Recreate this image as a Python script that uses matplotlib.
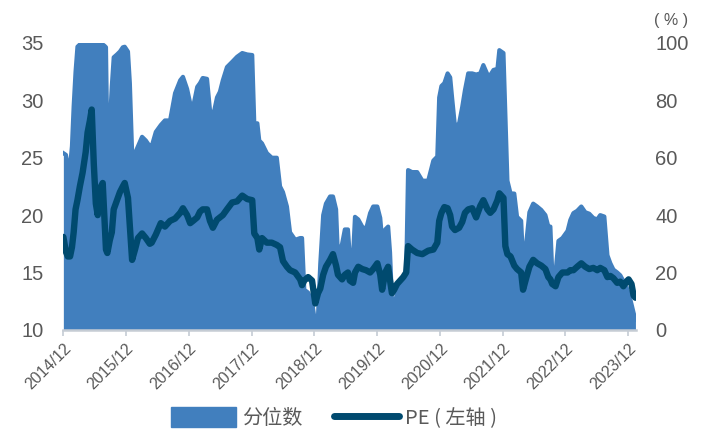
import matplotlib
matplotlib.use("Agg")
import matplotlib.pyplot as plt
from matplotlib.patches import Patch
from matplotlib.lines import Line2D
import pandas as pd

plt.rcParams['font.family'] = ['Liberation Sans', 'Noto Sans CJK SC', 'DejaVu Sans']

# 日期
dates = [
    "2015-01-01", "2015-01-16", "2015-01-27", "2015-02-09", "2015-02-20", "2015-03-02",
    "2015-03-13", "2015-03-24", "2015-04-07", "2015-04-23", "2015-05-11", "2015-05-22",
    "2015-06-04", "2015-06-15", "2015-06-27", "2015-07-09", "2015-07-20", "2015-08-01",
    "2015-08-18", "2015-08-29", "2015-09-06", "2015-09-14", "2015-09-28", "2015-10-10",
    "2015-10-21", "2015-11-09", "2015-11-26", "2015-12-13", "2015-12-24", "2016-01-12",
    "2016-01-23", "2016-02-05", "2016-02-22", "2016-03-10", "2016-04-03", "2016-04-25",
    "2016-05-18", "2016-05-29", "2016-06-22", "2016-07-21", "2016-08-14", "2016-09-13",
    "2016-10-12", "2016-11-11", "2016-11-27", "2016-12-21", "2017-01-08", "2017-01-25",
    "2017-02-18", "2017-03-06", "2017-03-22", "2017-04-16", "2017-05-03", "2017-05-20",
    "2017-06-13", "2017-06-30", "2017-07-17", "2017-08-10", "2017-09-09", "2017-10-08",
    "2017-11-07", "2017-12-06", "2018-01-04", "2018-01-16", "2018-02-03", "2018-02-14",
    "2018-03-02", "2018-03-30", "2018-04-28", "2018-05-27", "2018-06-15", "2018-07-02",
    "2018-07-25", "2018-08-12", "2018-09-11", "2018-10-10", "2018-10-21", "2018-11-03",
    "2018-11-25", "2018-12-18", "2019-01-06", "2019-01-22", "2019-02-04", "2019-02-21",
    "2019-03-09", "2019-04-02", "2019-04-19", "2019-05-07", "2019-05-18", "2019-06-11",
    "2019-06-27", "2019-07-15", "2019-07-26", "2019-08-14", "2019-08-25", "2019-09-13",
    "2019-10-06", "2019-10-28", "2019-11-21", "2019-12-09", "2020-01-02", "2020-01-19",
    "2020-01-30", "2020-02-17", "2020-03-05", "2020-03-16", "2020-03-27", "2020-04-09",
    "2020-04-26", "2020-05-14", "2020-06-01", "2020-06-18", "2020-06-29", "2020-07-22",
    "2020-08-21", "2020-09-20", "2020-10-24", "2020-11-23", "2020-12-16", "2020-12-27",
    "2021-01-09", "2021-01-26", "2021-02-14", "2021-03-01", "2021-03-12", "2021-03-29",
    "2021-04-22", "2021-05-10", "2021-05-26", "2021-06-14", "2021-07-07", "2021-07-30",
    "2021-08-23", "2021-09-10", "2021-10-04", "2021-10-20", "2021-11-08", "2021-12-01",
    "2021-12-12", "2022-01-05", "2022-01-16", "2022-01-28", "2022-02-15", "2022-03-09",
    "2022-03-25", "2022-04-18", "2022-04-29", "2022-05-17", "2022-06-05", "2022-06-27",
    "2022-07-20", "2022-08-13", "2022-09-06", "2022-09-23", "2022-10-05", "2022-10-16",
    "2022-11-04", "2022-11-21", "2022-12-14", "2023-01-13", "2023-01-29", "2023-02-16",
    "2023-03-10", "2023-04-03", "2023-04-26", "2023-05-19", "2023-06-12", "2023-07-05",
    "2023-07-22", "2023-08-15", "2023-09-02", "2023-09-19", "2023-10-07", "2023-10-29",
    "2023-11-16", "2023-12-04", "2023-12-21", "2024-01-03", "2024-01-20", "2024-02-01",
    "2024-02-12",
]

# 分位数（%，右轴）
pct = [
    61.6, 61.0, 57.0, 57.0, 64.0, 78.0,
    90.0, 98.7, 99.5, 100.0, 100.0, 100.0,
    100.0, 100.0, 100.0, 100.0, 100.0, 100.0,
    99.5, 99.0, 98.5, 64.0, 71.0, 85.0,
    95.0, 96.0, 97.0, 98.5, 98.7, 97.0,
    86.0, 62.0, 61.6, 64.0, 67.3, 66.0,
    64.0, 64.0, 69.0, 71.4, 73.0, 73.0,
    82.5, 87.0, 88.2, 84.0, 79.0, 77.7,
    84.7, 86.0, 87.8, 87.5, 76.7, 74.2,
    81.0, 83.0, 87.0, 91.6, 93.4, 95.2,
    96.5, 96.0, 95.8, 72.0, 72.0, 66.0,
    65.0, 61.6, 60.0, 60.0, 50.0, 48.0,
    43.0, 34.0, 31.4, 32.0, 32.0, 14.0,
    13.0, 10.0, 2.0, 5.0, 23.0, 40.0,
    44.0, 46.5, 46.5, 42.0, 25.5, 30.0,
    35.0, 35.0, 25.4, 26.0, 39.4, 38.5,
    36.0, 35.0, 40.7, 43.0, 43.0, 39.0,
    31.4, 35.0, 36.0, 27.0, 10.5, 8.0,
    13.0, 15.0, 17.4, 19.7, 55.7, 55.0,
    55.0, 52.0, 52.0, 59.0, 60.4, 81.0,
    85.0, 86.0, 89.4, 88.0, 81.0, 70.8,
    72.0, 77.7, 83.6, 89.4, 89.4, 89.0,
    89.4, 92.3, 89.0, 88.8, 90.6, 91.0,
    97.5, 96.5, 75.0, 52.0, 47.6, 47.5,
    39.4, 38.0, 24.4, 30.0, 41.0, 44.0,
    43.0, 41.8, 40.0, 36.0, 36.0, 19.7,
    20.0, 31.0, 32.0, 34.5, 38.3, 40.7,
    41.5, 43.0, 41.0, 40.5, 39.0, 38.5,
    40.0, 39.5, 26.0, 23.2, 21.0, 20.0,
    19.0, 17.0, 15.0, 13.0, 9.0, 6.0,
    3.5,
]

# PE（左轴）
pe = [
    18.1, 16.8, 16.4, 16.4, 17.2, 18.5,
    20.5, 21.3, 22.5, 23.7, 25.5, 27.2,
    28.2, 29.2, 24.5, 21.0, 20.0, 22.3,
    22.8, 19.5, 17.0, 16.7, 17.8, 18.5,
    20.5, 21.3, 22.0, 22.5, 22.8, 21.5,
    19.0, 16.1, 17.0, 18.0, 18.4, 18.0,
    17.5, 17.6, 18.3, 19.3, 19.0, 19.5,
    19.7, 20.2, 20.6, 20.0, 19.3, 19.5,
    19.8, 20.3, 20.5, 20.5, 19.5, 18.9,
    19.6, 19.8, 20.0, 20.5, 21.1, 21.2,
    21.7, 21.4, 21.3, 18.4, 18.0, 17.0,
    18.0, 17.6, 17.6, 17.4, 17.2, 16.0,
    15.5, 15.2, 15.0, 14.4, 13.9, 14.3,
    14.6, 14.3, 12.3, 13.2, 13.6, 14.8,
    15.5, 16.1, 16.6, 15.6, 14.8, 14.4,
    14.8, 15.0, 14.3, 14.1, 15.0, 15.5,
    15.3, 15.2, 15.0, 15.3, 15.8, 14.8,
    13.5, 15.0, 15.5, 14.3, 13.2, 13.5,
    14.0, 14.3, 14.6, 15.0, 17.3, 17.0,
    16.7, 16.6, 16.9, 17.0, 17.6, 19.5,
    20.2, 20.7, 20.6, 20.0, 19.0, 18.7,
    18.9, 19.4, 20.2, 20.5, 20.6, 19.8,
    20.8, 21.3, 20.5, 20.2, 20.5, 21.3,
    21.9, 21.5, 17.3, 16.6, 16.4, 15.6,
    15.3, 15.0, 13.5, 14.5, 15.5, 16.1,
    15.8, 15.6, 15.3, 14.6, 14.4, 14.0,
    13.8, 14.6, 15.0, 15.0, 15.2, 15.2,
    15.5, 15.8, 15.5, 15.3, 15.4, 15.2,
    15.4, 15.2, 14.6, 14.7, 14.5, 14.1,
    14.2, 13.8, 14.2, 14.4, 14.0, 13.0,
    12.8,
]

tick_dates = pd.to_datetime([f"{y}-12-31" for y in range(2014, 2024)])
tick_labels = [f"{y}/12" for y in range(2014, 2024)]

x = pd.to_datetime(dates)
area_color = '#417fbe'
line_color = '#004a6f'
text_color = '#595959'
cjk = ['Noto Sans CJK SC', 'Liberation Sans']

fig = plt.figure(figsize=(7.08, 4.41), dpi=100)
ax = fig.add_axes([0.089, 0.252, 0.809, 0.6505])
ax2 = ax.twinx()

ax2.fill_between(x, 0, pct, color=area_color, lw=0)
ax2.plot(x, pct, color=area_color, lw=3, solid_joinstyle='round')
ax.plot(x, pe, color=line_color, lw=4.6, solid_joinstyle='round', solid_capstyle='round')

ax.set_zorder(ax2.get_zorder() + 1)
ax.patch.set_visible(False)

ax.set_xlim(pd.Timestamp("2014-12-30"), pd.Timestamp("2024-02-14"))
ax.set_ylim(10, 35)
ax2.set_ylim(0, 100)
ax.set_yticks(range(10, 36, 5))
ax2.set_yticks(range(0, 101, 20))

ax.set_xticks(tick_dates)
ax.set_xticklabels(tick_labels, rotation=45, ha='right', rotation_mode='anchor',
                   fontsize=11.5, color=text_color)
ax.tick_params(axis='x', length=4, width=1.2, color='#c5ccd4', pad=4)
ax.tick_params(axis='y', length=0, labelsize=14.5, labelcolor=text_color, pad=14)
ax2.tick_params(axis='y', length=0, labelsize=14.5, labelcolor=text_color, pad=14)

for a in (ax, ax2):
    for s in ('top', 'left', 'right'):
        a.spines[s].set_visible(False)
ax.spines['bottom'].set_color('#c5ccd4')
ax.spines['bottom'].set_linewidth(1.8)
ax2.spines['bottom'].set_visible(False)

fig.text(0.948, 0.953, "( % )", fontsize=11.5, color=text_color, ha='center', va='center')

handles = [Patch(facecolor=area_color, edgecolor=area_color, label="分位数"),
           Line2D([0], [0], color=line_color, lw=5, solid_capstyle='round', label="PE ( 左轴 )")]
fig.legend(handles=handles, loc='center', bbox_to_anchor=(0.472, 0.052), ncol=2,
           frameon=False, handlelength=3.2, handleheight=1.1,
           handletextpad=0.3, columnspacing=1.6, labelcolor=text_color,
           prop={'family': cjk, 'size': 14.5})

fig.savefig("out.png", dpi=100)
